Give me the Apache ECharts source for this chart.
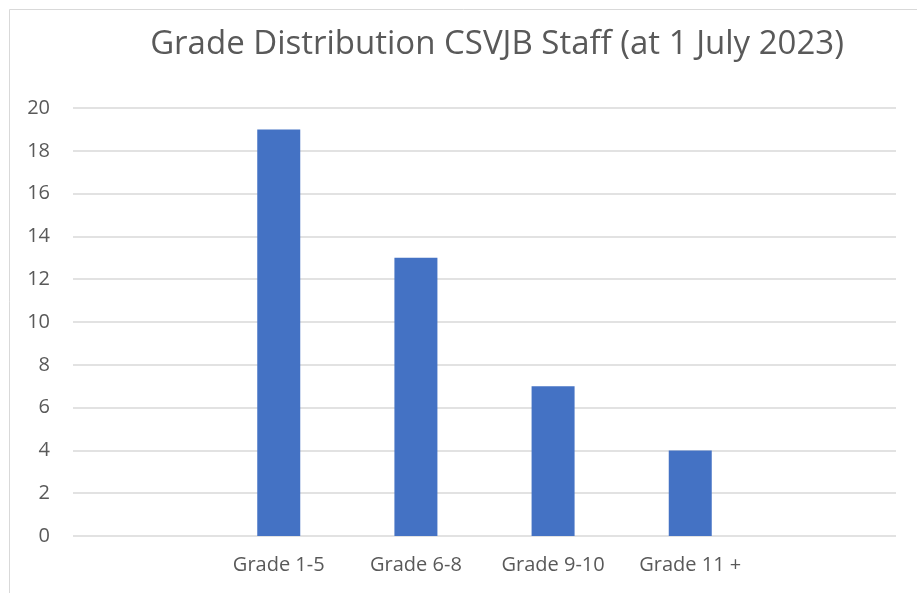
<!DOCTYPE html>
<html>
<head>
<meta charset="utf-8">
<script src="https://cdn.jsdelivr.net/npm/echarts@6/dist/echarts.min.js"></script>
<style>
  html, body { margin: 0; padding: 0; background: #fff; }
  #chart { width: 917px; height: 593px; }
</style>
</head>
<body>
<div id="chart"></div>
<script>
// categories incl. the two empty slots at the ends
var categories = [' ', 'Grade 1-5', 'Grade 6-8', 'Grade 9-10', 'Grade 11 +', '  '];
var staffCounts = [null, 19, 13, 7, 4, null];
var yTicks = [0, 2, 4, 6, 8, 10, 12, 14, 16, 18, 20];

var myChart = echarts.init(document.getElementById('chart'));
var option = {
  backgroundColor: '#fff',
  animation: false,
  title: {
    text: 'Grade Distribution CSVJB Staff (at 1 July 2023)',
    left: 492,
    top: 23,
    textAlign: 'center',
    textStyle: {
      color: '#595959',
      fontFamily: 'Open Sans',
      fontSize: 33,
      fontWeight: 'normal'
    }
  },
  graphic: [{
    type: 'rect',
    shape: { x: 9.5, y: 9.5, width: 940, height: 620 },
    style: { fill: 'none', stroke: '#d9d9d9', lineWidth: 1 },
    silent: true
  }],
  grid: { left: 73, right: 21, top: 108, bottom: 57 },
  xAxis: {
    type: 'category',
    data: categories,
    axisLine: { show: false },
    axisTick: { show: false },
    axisLabel: {
      color: '#595959',
      fontFamily: 'Open Sans',
      fontSize: 20,
      margin: 19
    }
  },
  yAxis: {
    type: 'value',
    min: yTicks[0],
    max: yTicks[yTicks.length - 1],
    interval: 2,
    axisLine: { show: false },
    axisTick: { show: false },
    splitLine: { lineStyle: { color: '#d9d9d9', width: 1.5 } },
    axisLabel: {
      color: '#595959',
      fontFamily: 'Open Sans',
      fontSize: 20,
      margin: 23
    }
  },
  series: [{
    type: 'bar',
    data: staffCounts,
    barWidth: 43,
    itemStyle: { color: '#4472C4' }
  }]
};
myChart.setOption(option);
</script>
</body>
</html>
